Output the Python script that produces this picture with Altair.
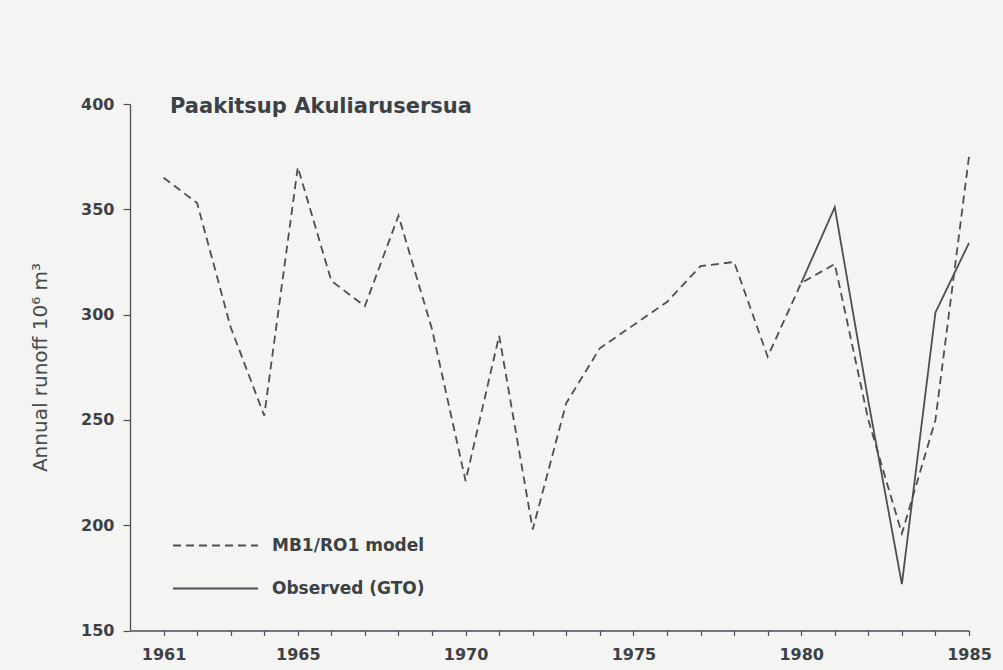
import altair as alt
import pandas as pd

# Annual runoff, 10^6 m^3
years = list(range(1961, 1986))
model_runoff = [365, 353, 294, 252, 370, 316, 304, 347, 293, 221,
                290, 198, 258, 284, 295, 306, 323, 325, 280, 315,
                324, 250, 196, 250, 375]
obs_years = [1980, 1981, 1982, 1983, 1984, 1985]
obs_runoff = [315, 351, 259, 172, 301, 334]

series_names = ["MB1/RO1 model", "Observed (GTO)"]
labelled_years = [1961, 1965, 1970, 1975, 1980, 1985]
y_ticks = [150, 200, 250, 300, 350, 400]

df = pd.concat([
    pd.DataFrame({"year": years, "runoff": model_runoff, "series": series_names[0]}),
    pd.DataFrame({"year": obs_years, "runoff": obs_runoff, "series": series_names[1]}),
], ignore_index=True)

ink = "#3c4146"
line_ink = "#4a4f54"
font = "DejaVu Sans"

label_test = "indexof([" + ",".join(str(y) for y in labelled_years) + "], datum.value) >= 0"

chart = alt.Chart(df).mark_line(color=line_ink, strokeWidth=1.8).encode(
    x=alt.X(
        "year:Q",
        scale=alt.Scale(domain=[1960, 1985], nice=False, zero=False),
        axis=alt.Axis(
            values=years, format="d",
            labelExpr=label_test + " ? datum.label : ''",
            title=None, grid=False, tickSize=5, labelPadding=11,
            labelFlush=False, labelOverlap=False,
            labelFont=font, labelFontSize=16, labelFontWeight="bold",
            labelColor=ink,
            domainColor=line_ink, tickColor=line_ink,
            domainWidth=1.3, tickWidth=1.2,
        ),
    ),
    y=alt.Y(
        "runoff:Q",
        scale=alt.Scale(domain=[150, 400], nice=False, zero=False),
        axis=alt.Axis(
            values=y_ticks, grid=False, tickSize=7, labelPadding=9,
            labelFlush=False, labelOverlap=False,
            labelFont=font, labelFontSize=16, labelFontWeight="bold",
            labelColor=ink,
            domainColor=line_ink, tickColor=line_ink,
            domainWidth=1.3, tickWidth=1.2,
            title="Annual runoff 10⁶ m³",
            titleFont=font, titleFontSize=20, titleFontWeight="normal",
            titleColor="#464b50", titleAngle=270, titleAlign="center",
            titleBaseline="alphabetic", titleX=-84, titleY=263,
        ),
    ),
    strokeDash=alt.StrokeDash(
        "series:N",
        scale=alt.Scale(domain=series_names, range=[[8, 5], [1, 0]]),
        legend=alt.Legend(
            title=None, orient="none", legendX=76, legendY=432,
            padding=0, rowPadding=25,
            symbolType="M-5,0H5", symbolSize=289,
            symbolStrokeWidth=1.8, symbolStrokeColor=line_ink,
            labelFont=font, labelFontSize=17, labelFontWeight="bold",
            labelColor=ink, labelOffset=47,
        ),
    ),
    order="year:Q",
).properties(
    width=839,
    height=526.5,
    title=alt.TitleParams(
        "Paakitsup Akuliarusersua", anchor="start", frame="group",
        dx=40, dy=38, offset=0,
        baseline="alphabetic", font=font, fontSize=21, fontWeight="bold",
        color=ink,
    ),
    autosize=alt.AutoSizeParams(type="none"),
    padding={"left": 130, "top": 104, "right": 34, "bottom": 39.5},
    background="#f4f4f2",
).configure_view(stroke=None)

chart.save("out.html", embed_options={"renderer": "svg", "actions": False})
